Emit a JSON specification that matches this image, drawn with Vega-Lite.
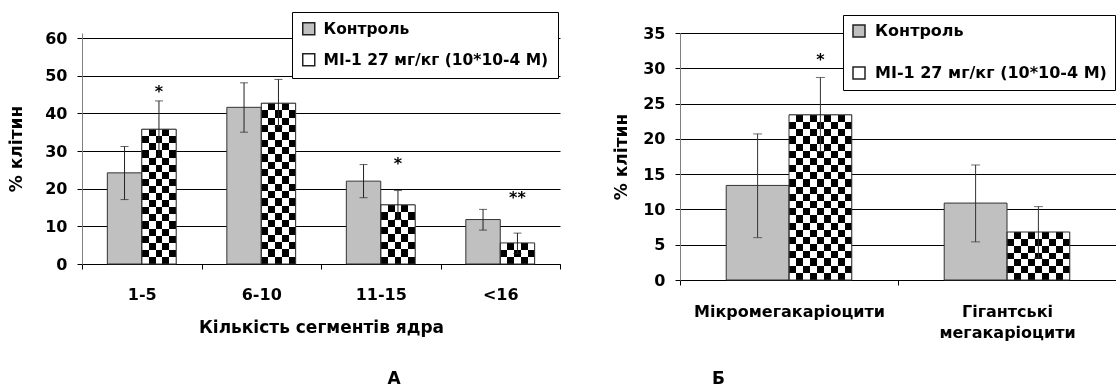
{
  "$schema": "https://vega.github.io/schema/vega-lite/v6.json",
  "padding": {"left": 7, "top": 11, "right": 0, "bottom": 0},
  "background": "white",
  "datasets": {
    "a": [
      {"cat": "1-5", "series": "Контроль", "value": 24.2, "lo": 17.1, "hi": 31.2},
      {"cat": "1-5", "series": "MI-1 27 мг/кг (10*10-4 M)", "value": 35.8, "lo": 28.3, "hi": 43.3, "star": "*", "star_y": 46.0},
      {"cat": "6-10", "series": "Контроль", "value": 41.6, "lo": 35.0, "hi": 48.1},
      {"cat": "6-10", "series": "MI-1 27 мг/кг (10*10-4 M)", "value": 42.7, "lo": 36.4, "hi": 49.0},
      {"cat": "11-15", "series": "Контроль", "value": 22.0, "lo": 17.6, "hi": 26.4},
      {"cat": "11-15", "series": "MI-1 27 мг/кг (10*10-4 M)", "value": 15.7, "lo": 11.8, "hi": 19.5, "star": "*", "star_y": 26.9},
      {"cat": "<16", "series": "Контроль", "value": 11.8, "lo": 9.0, "hi": 14.5},
      {"cat": "<16", "series": "MI-1 27 мг/кг (10*10-4 M)", "value": 5.6, "lo": 2.8, "hi": 8.2, "star": "**", "star_y": 17.7}
    ],
    "b": [
      {"cat": "Мікромегакаріоцити", "series": "Контроль", "value": 13.4, "lo": 6.0, "hi": 20.7},
      {"cat": "Мікромегакаріоцити", "series": "MI-1 27 мг/кг (10*10-4 M)", "value": 23.4, "lo": 18.2, "hi": 28.7, "star": "*", "star_y": 31.3},
      {"cat": "Гігантські мегакаріоцити", "series": "Контроль", "value": 10.9, "lo": 5.4, "hi": 16.3},
      {"cat": "Гігантські мегакаріоцити", "series": "MI-1 27 мг/кг (10*10-4 M)", "value": 6.8, "lo": 3.1, "hi": 10.4}
    ]
  },
  "hconcat": [
    {
      "width": 478,
      "height": 231,
      "data": {"name": "a"},
      "title": {"text": "А", "orient": "bottom", "anchor": "middle", "frame": "group", "dx": 73, "offset": 36, "fontSize": 17, "fontWeight": "bold", "font": "DejaVu Sans", "color": "#000"},
      "encoding": {
        "x": {"field": "cat", "type": "nominal", "sort": null,
          "scale": {"domain": ["1-5", "6-10", "11-15", "<16"], "paddingInner": 0, "paddingOuter": 0},
          "axis": {"title": "Кількість сегментів ядра", "labelAngle": 0, "tickBand": "extent", "tickSize": 5, "tickColor": "#000", "domainColor": "#000", "labelPadding": 17, "titlePadding": 17, "labelFontSize": 16, "titleFontSize": 17, "grid": false}},
        "xOffset": {"field": "series", "type": "nominal",
          "scale": {"domain": ["Контроль", "MI-1 27 мг/кг (10*10-4 M)"], "paddingInner": 0, "paddingOuter": 0.736}}
      },
      "layer": [
        {
          "mark": {"type": "bar", "strokeWidth": 0},
          "encoding": {
            "y": {"field": "value", "type": "quantitative", "title": "% клітин",
              "scale": {"domain": [0, 61.33], "nice": false, "zero": true},
              "axis": {"values": [0, 10, 20, 30, 40, 50, 60], "labelOverlap": false, "grid": true, "gridColor": "#000", "gridWidth": 1, "tickSize": 5, "tickColor": "#000", "domainColor": "#808080", "labelPadding": 10, "titlePadding": 19, "labelFontSize": 16, "titleFontSize": 17}},
            "fill": {"field": "series", "type": "nominal",
              "scale": {"domain": ["Контроль", "MI-1 27 мг/кг (10*10-4 M)"], "range": ["#c0c0c0", "#ffffff"]},
              "legend": {"title": null, "orient": "none", "legendX": 210, "legendY": -21, "padding": 9, "rowPadding": 12, "strokeColor": "#000", "fillColor": "#fff", "symbolType": "square", "symbolSize": 144, "symbolStrokeColor": "#222", "symbolStrokeWidth": 1.5, "labelFontSize": 15.5, "labelFontWeight": "bold", "labelFont": "DejaVu Sans", "labelColor": "#000", "labelOffset": 7, "labelLimit": 400}}
          }
        },
        {
          "transform": [{"filter": "datum.series != 'Контроль'"}],
          "mark": {"type": "bar", "strokeWidth": 0, "fill": {"gradient": "linear", "x1": 0, "y1": 0, "x2": 1, "y2": 0, "stops": [
            {"offset": 0, "color": "#000"}, {"offset": 0.2, "color": "#000"}, {"offset": 0.2, "color": "#fff"}, {"offset": 0.4, "color": "#fff"},
            {"offset": 0.4, "color": "#000"}, {"offset": 0.6, "color": "#000"}, {"offset": 0.6, "color": "#fff"}, {"offset": 0.8, "color": "#fff"},
            {"offset": 0.8, "color": "#000"}, {"offset": 1, "color": "#000"}]}},
          "encoding": {"y": {"field": "value", "type": "quantitative", "title": "% клітин", "axis": {"values": [0, 10, 20, 30, 40, 50, 60]}}}
        },
        {
          "transform": [{"filter": "datum.series != 'Контроль' && datum.cat == '1-5'"}],
          "mark": {"type": "bar", "strokeWidth": 0, "blend": "difference", "fill": {"gradient": "linear", "x1": 0, "y1": 0, "x2": 0, "y2": 1, "stops": [
            {"offset": 0, "color": "#fff"}, {"offset": 0.0526, "color": "#fff"}, {"offset": 0.0526, "color": "#000"}, {"offset": 0.1053, "color": "#000"},
            {"offset": 0.1053, "color": "#fff"}, {"offset": 0.1579, "color": "#fff"}, {"offset": 0.1579, "color": "#000"}, {"offset": 0.2105, "color": "#000"},
            {"offset": 0.2105, "color": "#fff"}, {"offset": 0.2632, "color": "#fff"}, {"offset": 0.2632, "color": "#000"}, {"offset": 0.3158, "color": "#000"},
            {"offset": 0.3158, "color": "#fff"}, {"offset": 0.3684, "color": "#fff"}, {"offset": 0.3684, "color": "#000"}, {"offset": 0.4211, "color": "#000"},
            {"offset": 0.4211, "color": "#fff"}, {"offset": 0.4737, "color": "#fff"}, {"offset": 0.4737, "color": "#000"}, {"offset": 0.5263, "color": "#000"},
            {"offset": 0.5263, "color": "#fff"}, {"offset": 0.5789, "color": "#fff"}, {"offset": 0.5789, "color": "#000"}, {"offset": 0.6316, "color": "#000"},
            {"offset": 0.6316, "color": "#fff"}, {"offset": 0.6842, "color": "#fff"}, {"offset": 0.6842, "color": "#000"}, {"offset": 0.7368, "color": "#000"},
            {"offset": 0.7368, "color": "#fff"}, {"offset": 0.7895, "color": "#fff"}, {"offset": 0.7895, "color": "#000"}, {"offset": 0.8421, "color": "#000"},
            {"offset": 0.8421, "color": "#fff"}, {"offset": 0.8947, "color": "#fff"}, {"offset": 0.8947, "color": "#000"}, {"offset": 0.9474, "color": "#000"},
            {"offset": 0.9474, "color": "#fff"}, {"offset": 1, "color": "#fff"}]}},
          "encoding": {"y": {"field": "value", "type": "quantitative", "title": "% клітин", "axis": {"values": [0, 10, 20, 30, 40, 50, 60]}}}
        },
        {
          "transform": [{"filter": "datum.series != 'Контроль' && datum.cat == '6-10'"}],
          "mark": {"type": "bar", "strokeWidth": 0, "blend": "difference", "fill": {"gradient": "linear", "x1": 0, "y1": 0, "x2": 0, "y2": 1, "stops": [
            {"offset": 0, "color": "#fff"}, {"offset": 0.0455, "color": "#fff"}, {"offset": 0.0455, "color": "#000"}, {"offset": 0.0909, "color": "#000"},
            {"offset": 0.0909, "color": "#fff"}, {"offset": 0.1364, "color": "#fff"}, {"offset": 0.1364, "color": "#000"}, {"offset": 0.1818, "color": "#000"},
            {"offset": 0.1818, "color": "#fff"}, {"offset": 0.2273, "color": "#fff"}, {"offset": 0.2273, "color": "#000"}, {"offset": 0.2727, "color": "#000"},
            {"offset": 0.2727, "color": "#fff"}, {"offset": 0.3182, "color": "#fff"}, {"offset": 0.3182, "color": "#000"}, {"offset": 0.3636, "color": "#000"},
            {"offset": 0.3636, "color": "#fff"}, {"offset": 0.4091, "color": "#fff"}, {"offset": 0.4091, "color": "#000"}, {"offset": 0.4545, "color": "#000"},
            {"offset": 0.4545, "color": "#fff"}, {"offset": 0.5, "color": "#fff"}, {"offset": 0.5, "color": "#000"}, {"offset": 0.5455, "color": "#000"},
            {"offset": 0.5455, "color": "#fff"}, {"offset": 0.5909, "color": "#fff"}, {"offset": 0.5909, "color": "#000"}, {"offset": 0.6364, "color": "#000"},
            {"offset": 0.6364, "color": "#fff"}, {"offset": 0.6818, "color": "#fff"}, {"offset": 0.6818, "color": "#000"}, {"offset": 0.7273, "color": "#000"},
            {"offset": 0.7273, "color": "#fff"}, {"offset": 0.7727, "color": "#fff"}, {"offset": 0.7727, "color": "#000"}, {"offset": 0.8182, "color": "#000"},
            {"offset": 0.8182, "color": "#fff"}, {"offset": 0.8636, "color": "#fff"}, {"offset": 0.8636, "color": "#000"}, {"offset": 0.9091, "color": "#000"},
            {"offset": 0.9091, "color": "#fff"}, {"offset": 0.9545, "color": "#fff"}, {"offset": 0.9545, "color": "#000"}, {"offset": 1, "color": "#000"}]}},
          "encoding": {"y": {"field": "value", "type": "quantitative", "title": "% клітин", "axis": {"values": [0, 10, 20, 30, 40, 50, 60]}}}
        },
        {
          "transform": [{"filter": "datum.series != 'Контроль' && datum.cat == '11-15'"}],
          "mark": {"type": "bar", "strokeWidth": 0, "blend": "difference", "fill": {"gradient": "linear", "x1": 0, "y1": 0, "x2": 0, "y2": 1, "stops": [
            {"offset": 0, "color": "#fff"}, {"offset": 0.125, "color": "#fff"}, {"offset": 0.125, "color": "#000"}, {"offset": 0.25, "color": "#000"},
            {"offset": 0.25, "color": "#fff"}, {"offset": 0.375, "color": "#fff"}, {"offset": 0.375, "color": "#000"}, {"offset": 0.5, "color": "#000"},
            {"offset": 0.5, "color": "#fff"}, {"offset": 0.625, "color": "#fff"}, {"offset": 0.625, "color": "#000"}, {"offset": 0.75, "color": "#000"},
            {"offset": 0.75, "color": "#fff"}, {"offset": 0.875, "color": "#fff"}, {"offset": 0.875, "color": "#000"}, {"offset": 1, "color": "#000"}]}},
          "encoding": {"y": {"field": "value", "type": "quantitative", "title": "% клітин", "axis": {"values": [0, 10, 20, 30, 40, 50, 60]}}}
        },
        {
          "transform": [{"filter": "datum.series != 'Контроль' && datum.cat == '<16'"}],
          "mark": {"type": "bar", "strokeWidth": 0, "blend": "difference", "fill": {"gradient": "linear", "x1": 0, "y1": 0, "x2": 0, "y2": 1, "stops": [
            {"offset": 0, "color": "#fff"}, {"offset": 0.3333, "color": "#fff"}, {"offset": 0.3333, "color": "#000"}, {"offset": 0.6667, "color": "#000"},
            {"offset": 0.6667, "color": "#fff"}, {"offset": 1, "color": "#fff"}]}},
          "encoding": {"y": {"field": "value", "type": "quantitative", "title": "% клітин", "axis": {"values": [0, 10, 20, 30, 40, 50, 60]}}}
        },
        {
          "mark": {"type": "bar", "fill": "transparent", "stroke": "#333", "strokeWidth": 1},
          "encoding": {"y": {"field": "value", "type": "quantitative", "title": "% клітин", "axis": {"values": [0, 10, 20, 30, 40, 50, 60]}}}
        },
        {
          "mark": {"type": "rule", "color": "#222", "strokeWidth": 1},
          "encoding": {"y": {"field": "lo", "type": "quantitative", "title": "% клітин", "axis": {"values": [0, 10, 20, 30, 40, 50, 60]}}, "y2": {"field": "hi"}}
        },
        {
          "mark": {"type": "tick", "color": "#222", "thickness": 1, "size": 8},
          "encoding": {"y": {"field": "hi", "type": "quantitative", "title": "% клітин", "axis": {"values": [0, 10, 20, 30, 40, 50, 60]}}}
        },
        {
          "mark": {"type": "tick", "color": "#222", "thickness": 1, "size": 8},
          "encoding": {"y": {"field": "lo", "type": "quantitative", "title": "% клітин", "axis": {"values": [0, 10, 20, 30, 40, 50, 60]}}}
        },
        {
          "transform": [{"filter": "isValid(datum.star)"}],
          "mark": {"type": "text", "fontSize": 16, "fontWeight": "bold", "font": "DejaVu Sans", "baseline": "middle", "dy": 1, "color": "#000"},
          "encoding": {"y": {"field": "star_y", "type": "quantitative", "title": "% клітин", "axis": {"values": [0, 10, 20, 30, 40, 50, 60]}}, "text": {"field": "star"}}
        }
      ]
    },
    {
      "width": 436,
      "height": 247,
      "data": {"name": "b"},
      "title": {"text": "Б", "orient": "bottom", "anchor": "start", "frame": "group", "dx": 32, "offset": 31, "fontSize": 17, "fontWeight": "bold", "font": "DejaVu Sans", "color": "#000"},
      "encoding": {
        "x": {"field": "cat", "type": "nominal", "sort": null,
          "scale": {"domain": ["Мікромегакаріоцити", "Гігантські мегакаріоцити"], "paddingInner": 0, "paddingOuter": 0},
          "axis": {"title": null, "labelAngle": 0, "tickBand": "extent", "tickSize": 5, "tickColor": "#000", "domainColor": "#000", "labelPadding": 18, "labelFontSize": 16, "labelLineHeight": 21, "labelLimit": 300, "labelExpr": "split(datum.label, ' ')", "grid": false}},
        "xOffset": {"field": "series", "type": "nominal",
          "scale": {"domain": ["Контроль", "MI-1 27 мг/кг (10*10-4 M)"], "paddingInner": 0, "paddingOuter": 0.736}}
      },
      "layer": [
        {
          "mark": {"type": "bar", "strokeWidth": 0},
          "encoding": {
            "y": {"field": "value", "type": "quantitative", "title": "% клітин",
              "scale": {"domain": [0, 35], "nice": false, "zero": true},
              "axis": {"values": [0, 5, 10, 15, 20, 25, 30, 35], "labelOverlap": false, "grid": true, "gridColor": "#000", "gridWidth": 1, "tickSize": 5, "tickColor": "#000", "domainColor": "#808080", "labelPadding": 10, "titlePadding": 12, "labelFontSize": 16, "titleFontSize": 17}},
            "fill": {"field": "series", "type": "nominal",
              "scale": {"domain": ["Контроль", "MI-1 27 мг/кг (10*10-4 M)"], "range": ["#c0c0c0", "#ffffff"]},
              "legend": {"title": null, "orient": "none", "legendX": 163, "legendY": -18, "padding": 8, "rowPadding": 24, "strokeColor": "#000", "fillColor": "#fff", "symbolType": "square", "symbolSize": 144, "symbolStrokeColor": "#222", "symbolStrokeWidth": 1.5, "labelFontSize": 16, "labelFontWeight": "bold", "labelFont": "DejaVu Sans", "labelColor": "#000", "labelOffset": 8, "labelLimit": 400}}
          }
        },
        {
          "transform": [{"filter": "datum.series != 'Контроль'"}],
          "mark": {"type": "bar", "strokeWidth": 0, "fill": {"gradient": "linear", "x1": 0, "y1": 0, "x2": 1, "y2": 0, "stops": [
            {"offset": 0, "color": "#000"}, {"offset": 0.1111, "color": "#000"}, {"offset": 0.1111, "color": "#fff"}, {"offset": 0.2222, "color": "#fff"},
            {"offset": 0.2222, "color": "#000"}, {"offset": 0.3333, "color": "#000"}, {"offset": 0.3333, "color": "#fff"}, {"offset": 0.4444, "color": "#fff"},
            {"offset": 0.4444, "color": "#000"}, {"offset": 0.5556, "color": "#000"}, {"offset": 0.5556, "color": "#fff"}, {"offset": 0.6667, "color": "#fff"},
            {"offset": 0.6667, "color": "#000"}, {"offset": 0.7778, "color": "#000"}, {"offset": 0.7778, "color": "#fff"}, {"offset": 0.8889, "color": "#fff"},
            {"offset": 0.8889, "color": "#000"}, {"offset": 1, "color": "#000"}]}},
          "encoding": {"y": {"field": "value", "type": "quantitative", "title": "% клітин", "axis": {"values": [0, 5, 10, 15, 20, 25, 30, 35]}}}
        },
        {
          "transform": [{"filter": "datum.series != 'Контроль' && datum.cat == 'Мікромегакаріоцити'"}],
          "mark": {"type": "bar", "strokeWidth": 0, "blend": "difference", "fill": {"gradient": "linear", "x1": 0, "y1": 0, "x2": 0, "y2": 1, "stops": [
            {"offset": 0, "color": "#fff"}, {"offset": 0.0435, "color": "#fff"}, {"offset": 0.0435, "color": "#000"}, {"offset": 0.087, "color": "#000"},
            {"offset": 0.087, "color": "#fff"}, {"offset": 0.1304, "color": "#fff"}, {"offset": 0.1304, "color": "#000"}, {"offset": 0.1739, "color": "#000"},
            {"offset": 0.1739, "color": "#fff"}, {"offset": 0.2174, "color": "#fff"}, {"offset": 0.2174, "color": "#000"}, {"offset": 0.2609, "color": "#000"},
            {"offset": 0.2609, "color": "#fff"}, {"offset": 0.3043, "color": "#fff"}, {"offset": 0.3043, "color": "#000"}, {"offset": 0.3478, "color": "#000"},
            {"offset": 0.3478, "color": "#fff"}, {"offset": 0.3913, "color": "#fff"}, {"offset": 0.3913, "color": "#000"}, {"offset": 0.4348, "color": "#000"},
            {"offset": 0.4348, "color": "#fff"}, {"offset": 0.4783, "color": "#fff"}, {"offset": 0.4783, "color": "#000"}, {"offset": 0.5217, "color": "#000"},
            {"offset": 0.5217, "color": "#fff"}, {"offset": 0.5652, "color": "#fff"}, {"offset": 0.5652, "color": "#000"}, {"offset": 0.6087, "color": "#000"},
            {"offset": 0.6087, "color": "#fff"}, {"offset": 0.6522, "color": "#fff"}, {"offset": 0.6522, "color": "#000"}, {"offset": 0.6957, "color": "#000"},
            {"offset": 0.6957, "color": "#fff"}, {"offset": 0.7391, "color": "#fff"}, {"offset": 0.7391, "color": "#000"}, {"offset": 0.7826, "color": "#000"},
            {"offset": 0.7826, "color": "#fff"}, {"offset": 0.8261, "color": "#fff"}, {"offset": 0.8261, "color": "#000"}, {"offset": 0.8696, "color": "#000"},
            {"offset": 0.8696, "color": "#fff"}, {"offset": 0.913, "color": "#fff"}, {"offset": 0.913, "color": "#000"}, {"offset": 0.9565, "color": "#000"},
            {"offset": 0.9565, "color": "#fff"}, {"offset": 1, "color": "#fff"}]}},
          "encoding": {"y": {"field": "value", "type": "quantitative", "title": "% клітин", "axis": {"values": [0, 5, 10, 15, 20, 25, 30, 35]}}}
        },
        {
          "transform": [{"filter": "datum.series != 'Контроль' && datum.cat == 'Гігантські мегакаріоцити'"}],
          "mark": {"type": "bar", "strokeWidth": 0, "blend": "difference", "fill": {"gradient": "linear", "x1": 0, "y1": 0, "x2": 0, "y2": 1, "stops": [
            {"offset": 0, "color": "#fff"}, {"offset": 0.1429, "color": "#fff"}, {"offset": 0.1429, "color": "#000"}, {"offset": 0.2857, "color": "#000"},
            {"offset": 0.2857, "color": "#fff"}, {"offset": 0.4286, "color": "#fff"}, {"offset": 0.4286, "color": "#000"}, {"offset": 0.5714, "color": "#000"},
            {"offset": 0.5714, "color": "#fff"}, {"offset": 0.7143, "color": "#fff"}, {"offset": 0.7143, "color": "#000"}, {"offset": 0.8571, "color": "#000"},
            {"offset": 0.8571, "color": "#fff"}, {"offset": 1, "color": "#fff"}]}},
          "encoding": {"y": {"field": "value", "type": "quantitative", "title": "% клітин", "axis": {"values": [0, 5, 10, 15, 20, 25, 30, 35]}}}
        },
        {
          "mark": {"type": "bar", "fill": "transparent", "stroke": "#333", "strokeWidth": 1},
          "encoding": {"y": {"field": "value", "type": "quantitative", "title": "% клітин", "axis": {"values": [0, 5, 10, 15, 20, 25, 30, 35]}}}
        },
        {
          "mark": {"type": "rule", "color": "#333", "strokeWidth": 1},
          "encoding": {"y": {"field": "lo", "type": "quantitative", "title": "% клітин", "axis": {"values": [0, 5, 10, 15, 20, 25, 30, 35]}}, "y2": {"field": "hi"}}
        },
        {
          "mark": {"type": "tick", "color": "#333", "thickness": 1, "size": 9},
          "encoding": {"y": {"field": "hi", "type": "quantitative", "title": "% клітин", "axis": {"values": [0, 5, 10, 15, 20, 25, 30, 35]}}}
        },
        {
          "mark": {"type": "tick", "color": "#333", "thickness": 1, "size": 9},
          "encoding": {"y": {"field": "lo", "type": "quantitative", "title": "% клітин", "axis": {"values": [0, 5, 10, 15, 20, 25, 30, 35]}}}
        },
        {
          "transform": [{"filter": "isValid(datum.star)"}],
          "mark": {"type": "text", "fontSize": 16, "fontWeight": "bold", "font": "DejaVu Sans", "baseline": "middle", "dy": 1, "color": "#000"},
          "encoding": {"y": {"field": "star_y", "type": "quantitative", "title": "% клітин", "axis": {"values": [0, 5, 10, 15, 20, 25, 30, 35]}}, "text": {"field": "star"}}
        }
      ]
    }
  ],
  "spacing": 51,
  "resolve": {
    "scale": {"x": "independent", "y": "independent", "xOffset": "independent", "fill": "independent"},
    "legend": {"fill": "independent"},
    "axis": {"x": "independent", "y": "independent"}
  },
  "config": {
    "font": "DejaVu Sans",
    "view": {"stroke": null},
    "axis": {"labelFont": "DejaVu Sans", "titleFont": "DejaVu Sans", "labelFontWeight": "bold", "titleFontWeight": "bold", "labelColor": "#000", "titleColor": "#000"},
    "axisY": {"labelOverlap": false}
  }
}
